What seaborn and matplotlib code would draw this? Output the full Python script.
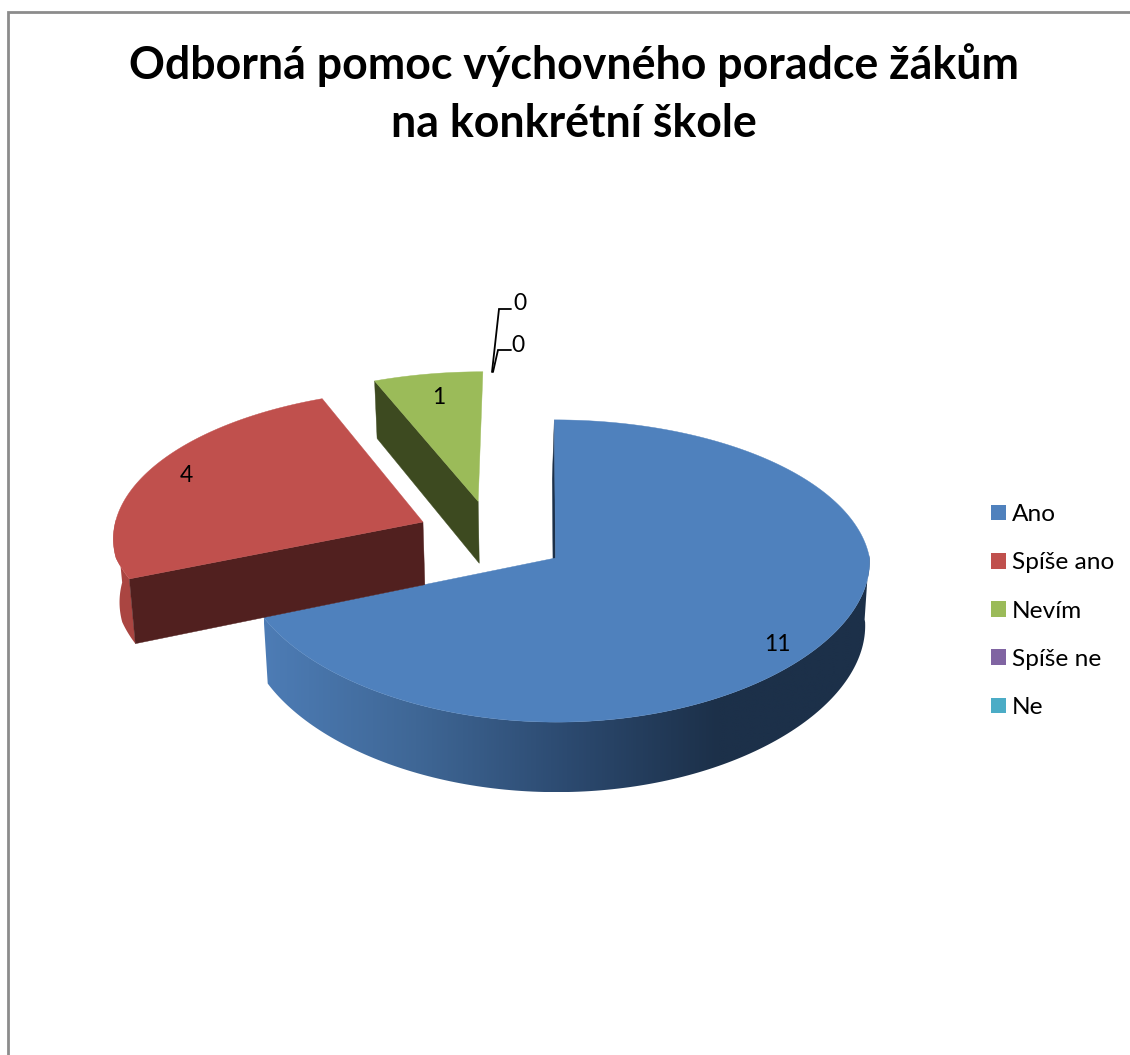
import numpy as np
import matplotlib
matplotlib.use("Agg")
import matplotlib.pyplot as plt
from matplotlib.colors import LinearSegmentedColormap
from matplotlib.patches import Patch, Polygon
import seaborn as sns

# Survey answers
categories = ["Ano", "Spíše ano", "Nevím", "Spíše ne", "Ne"]
counts = [11, 4, 1, 0, 0]
title_lines = ["Odborná pomoc výchovného poradce žákům", "na konkrétní škole"]

sns.set_theme(style="white")
plt.rcParams["font.family"] = ["Lato", "DejaVu Sans"]
palette = sns.color_palette(["#4F81BD", "#C0504D", "#9BBB59", "#8064A2", "#4BACC6"])

# Projection of the unit disc to canvas pixels
CX, CY = 555.5, 558.0
RX, RY = 314.0, 150.0
PERSP = 0.086
NEAR_PERSP = 0.02
DEPTH = 64.0
LEAN = 1.2
TAPER = 0.014

# Pull-out of each slice, in disc units
EXPLODE = [(0.0, 0.0), (-0.43, 0.245), (-0.253, 0.39), (0.0, 0.0), (0.0, 0.0)]
CUT_SHADE = ["#1c3049", "#51201f", "#3d4a20", "#3d2f52", "#1f5060"]
ARC_SHADE = [None, "#aa4541", "#7d9848", "#6a5388", "#3d8fa5"]
# Where each count is written
LABEL_XY = [(777, 644.5), (186, 475), (439, 398), (520, 304), (518, 346)]


def project(u, v, z=0.0, skew=0.0):
    w = 1 + PERSP * v
    wx = 1 + PERSP * np.maximum(v, 0) + NEAR_PERSP * np.minimum(v, 0)
    x = CX + RX * u / wx * (1 - TAPER * z) - LEAN * v + skew * z
    y = CY - RY * v / w + z * DEPTH / w
    return x, y


def ring(t, ou, ov, z=0.0):
    return project(np.sin(t) + ou, np.cos(t) + ov, z)


fig = plt.figure(figsize=(11.30, 10.55), dpi=100)
ax = fig.add_axes([0, 0, 1, 1])
ax.set_xlim(0, 1130)
ax.set_ylim(1055, 0)
ax.axis("off")

# Outer frame runs off the right and bottom edges
ax.plot([7.5, 7.5, 1130], [1055, 12, 12], color="#8c8c8c", lw=2.0, solid_joinstyle="miter", zorder=1)

shares = np.array(counts, dtype=float) / sum(counts) * 2 * np.pi
starts = np.concatenate([[0.0], np.cumsum(shares)[:-1]])
blue_shade = LinearSegmentedColormap.from_list(
    "side", ["#4d7cb5", "#3f6796", "#2c4a70", "#1c3049", "#1c3049"])

for i, (start, share) in enumerate(zip(starts, shares)):
    if share == 0:
        continue
    ou, ov = EXPLODE[i]
    base = 10 + i * 5
    t = np.linspace(start, start + share, 240)
    top_x, top_y = ring(t, ou, ov)
    apex = project(ou, ov)

    # Outer wall: only the part facing the viewer
    front = t[np.cos(t) < 0.02]
    if front.size:
        ux, uy = ring(front, ou, ov)
        lx, ly = ring(front, ou, ov, 1.0)
        wall = np.column_stack([np.r_[ux, lx[::-1]], np.r_[uy, ly[::-1]]])
        if i == 0:
            patch = Polygon(wall, closed=True, fc="none", ec="none")
            ax.add_patch(patch)
            img = ax.imshow(np.linspace(0, 1, 512)[None, :], cmap=blue_shade, aspect="auto",
                            extent=(wall[:, 0].min(), wall[:, 0].max(), wall[:, 1].max(), wall[:, 1].min()),
                            zorder=base, interpolation="bilinear")
            img.set_clip_path(patch)
            ax.set_xlim(0, 1130)
            ax.set_ylim(1055, 0)
        else:
            ax.fill(wall[:, 0], wall[:, 1], color=ARC_SHADE[i], lw=0, zorder=base)

    # Cut face along the slice's leading edge
    skew = -2.0 if i == 0 else 0.0
    rim_u, rim_v = np.sin(start) + ou, np.cos(start) + ov
    corners = [project(ou, ov), project(rim_u, rim_v),
               project(rim_u, rim_v, 1.0, skew), project(ou, ov, 1.0, skew)]
    ax.add_patch(Polygon(corners, closed=True, fc=CUT_SHADE[i], ec=CUT_SHADE[i], lw=0.3, zorder=base + 1))

    # Top face
    ax.fill(np.r_[apex[0], top_x], np.r_[apex[1], top_y], color=palette[i], lw=0.3, zorder=base + 2)

# Leader lines for the two empty slices
ax.plot([492, 499, 511], [372, 309, 309], color="black", lw=1.3, zorder=40, solid_joinstyle="miter")
ax.plot([493, 498, 511], [372, 350, 350], color="black", lw=1.3, zorder=40, solid_joinstyle="miter")

for value, (x, y) in zip(counts, LABEL_XY):
    ax.text(x, y, str(value), ha="center", va="center", fontsize=16.5, color="black", zorder=50)

for line, y in zip(title_lines, (65, 124)):
    ax.text(574, y, line, ha="center", va="center", fontsize=32.1, fontweight="bold", color="black", zorder=50)

handles = [Patch(facecolor=c, edgecolor="none") for c in palette]
ax.legend(handles, categories, loc="upper left", bbox_to_anchor=(991, 504), bbox_transform=ax.transData,
          frameon=False, fontsize=17.6, borderpad=0, borderaxespad=0, handlelength=0.613, handleheight=0.613,
          handletextpad=0.24, labelspacing=1.115, labelcolor="black")

fig.savefig("out.png", dpi=100, facecolor="white")
